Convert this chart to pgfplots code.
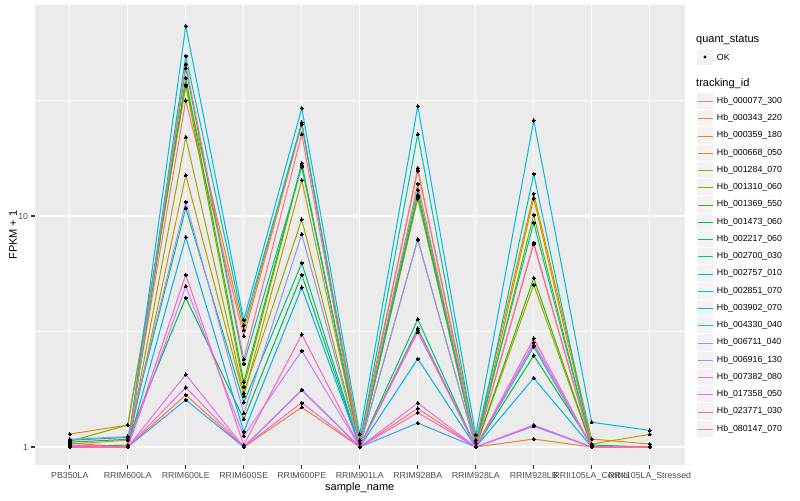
\documentclass[border=0pt]{standalone}
\usepackage{pgfplots}
\pgfplotsset{compat=1.18}
\usepackage{pgfplotstable}
\usepackage{fontspec}
\setmainfont{Liberation Sans}

\definecolor{gray92}{HTML}{EBEBEB}
\definecolor{gray95}{HTML}{F2F2F2}
\definecolor{gray30}{HTML}{4D4D4D}
\definecolor{gray20}{HTML}{333333}
% ggplot hue palette, 20 levels
\definecolor{c01}{HTML}{F8766D}
\definecolor{c02}{HTML}{EA8331}
\definecolor{c03}{HTML}{D89000}
\definecolor{c04}{HTML}{C09B00}
\definecolor{c05}{HTML}{A3A500}
\definecolor{c06}{HTML}{7CAE00}
\definecolor{c07}{HTML}{39B600}
\definecolor{c08}{HTML}{00BB4E}
\definecolor{c09}{HTML}{00BF7D}
\definecolor{c10}{HTML}{00C1A3}
\definecolor{c11}{HTML}{00BFC4}
\definecolor{c12}{HTML}{00BAE0}
\definecolor{c13}{HTML}{00B0F6}
\definecolor{c14}{HTML}{35A2FF}
\definecolor{c15}{HTML}{9590FF}
\definecolor{c16}{HTML}{C77CFF}
\definecolor{c17}{HTML}{E76BF3}
\definecolor{c18}{HTML}{FA62DB}
\definecolor{c19}{HTML}{FF62BC}
\definecolor{c20}{HTML}{FF6C91}

% FPKM + 1 per sample (rows) and tracking id (columns)
\pgfplotstableread{
x  s01   s02   s03   s04   s05   s06   s07   s08   s09   s10   s11   s12   s13   s14   s15   s16   s17   s18   s19   s20
0  1.03  1.00  1.138 1.04  1.00  1.06  1.00  1.05  1.07  1.01  1.00  1.00  1.00  1.00  1.08  1.00  1.00  1.00  1.02  1.01
1  1.07  1.00  1.245 1.00  1.00  1.245 1.02  1.08  1.10  1.00  1.00  1.00  1.00  1.00  1.11  1.00  1.00  1.00  1.00  1.00
2  31.6  1.68  36.6  15.0  21.9  36.9  39.5  4.43  10.8  43.6  49.3  66.4  8.1   1.60  11.5  4.96  2.06  1.81  5.57  45.4
3  3.02  1.00  3.20  1.66  1.71  1.82  1.91  1.32  1.56  2.29  3.36  3.55  1.165 1.00  1.40  1.116 1.00  1.00  1.02  2.40
4  24.9  1.485 25.0  14.3  9.66  16.6  16.9  5.57  6.26  16.3  25.4  29.3  4.90  1.76  8.33  2.61  1.77  1.555 3.07  22.6
5  1.00  1.00  1.07  1.00  1.00  1.00  1.00  1.00  1.00  1.04  1.00  1.135 1.00  1.00  1.00  1.00  1.00  1.00  1.00  1.00
6  13.8  1.47  15.7  11.9  7.93  12.1  12.3  3.26  3.57  22.6  12.95 29.9  2.41  1.27  7.9   3.14  1.55  1.41  3.21  16.1
7  1.00  1.00  1.07  1.00  1.00  1.00  1.00  1.00  1.00  1.04  1.00  1.13  1.00  1.00  1.00  1.00  1.00  1.00  1.00  1.00
8  7.55  1.083 12.5  11.9  5.04  10.1  5.39  2.49  2.72  9.35  15.2  25.9  1.99  1.23  2.76  2.83  1.245 1.24  2.95  7.66
9  1.00  1.00  1.083 1.03  1.00  1.00  1.00  1.02  1.00  1.00  1.00  1.28  1.00  1.00  1.00  1.00  1.00  1.00  1.00  1.00
10 1.00  1.00  1.03  1.135 1.00  1.00  1.00  1.00  1.00  1.00  1.00  1.18  1.00  1.00  1.00  1.00  1.00  1.00  1.00  1.00
}\fpkm

\begin{document}
\begin{tikzpicture}
\begin{axis}[
    width=649.5pt, height=460pt, scale only axis,
    set layers, mark layer=axis foreground,
    clip=false,
    ymode=log, ymin=0.836, ymax=81.9,
    xmin=-0.6, xmax=10.6,
    xtick={0,...,10},
    xticklabels={PB350LA,RRIM600LA,RRIM600LE,RRIM600SE,RRIM600PE,RRIM901LA,RRIM928BA,RRIM928LA,RRIM928LB,RRII105LA\_Control,RRII105LA\_Stressed},
    ytick={1,10}, yticklabels={1,10},
    minor ytick={3.1623,31.623},
    xmajorgrids, ymajorgrids, yminorgrids,
    major grid style={white, line width=1.07pt},
    minor grid style={white, line width=0.53pt},
    axis background/.style={fill=gray92},
    axis line style={draw=none},
    tick pos=left,
    tick align=outside, major tick length=3.7pt, minor tick length=0pt,
    tick style={color=gray20, line width=1.07pt},
    xticklabel style={font=\fontsize{8.8}{10}\selectfont, text=gray30, inner sep=0pt, yshift=-3pt},
    yticklabel style={font=\fontsize{8.8}{10}\selectfont, text=gray30, inner sep=0pt, xshift=-3pt},
    xlabel={sample\_name}, ylabel={FPKM + 1},
    label style={font=\fontsize{11}{13}\selectfont},
    xlabel style={at={(axis description cs:0.5,-0.05)}, anchor=center},
    ylabel style={at={(axis description cs:-0.0339,0.5)}, anchor=center},
    every axis plot/.append style={line width=1pt, mark=*, mark size=1.6pt,
        mark options={draw=black, fill=black, line width=0pt}},
]
\addplot[c01] table[x=x,y=s01] {\fpkm};
\addplot[c02] table[x=x,y=s02] {\fpkm};
\addplot[c03] table[x=x,y=s03] {\fpkm};
\addplot[c04] table[x=x,y=s04] {\fpkm};
\addplot[c05] table[x=x,y=s05] {\fpkm};
\addplot[c06] table[x=x,y=s06] {\fpkm};
\addplot[c07] table[x=x,y=s07] {\fpkm};
\addplot[c08] table[x=x,y=s08] {\fpkm};
\addplot[c09] table[x=x,y=s09] {\fpkm};
\addplot[c10] table[x=x,y=s10] {\fpkm};
\addplot[c11] table[x=x,y=s11] {\fpkm};
\addplot[c12] table[x=x,y=s12] {\fpkm};
\addplot[c13] table[x=x,y=s13] {\fpkm};
\addplot[c14] table[x=x,y=s14] {\fpkm};
\addplot[c15] table[x=x,y=s15] {\fpkm};
\addplot[c16] table[x=x,y=s16] {\fpkm};
\addplot[c17] table[x=x,y=s17] {\fpkm};
\addplot[c18] table[x=x,y=s18] {\fpkm};
\addplot[c19] table[x=x,y=s19] {\fpkm};
\addplot[c20] table[x=x,y=s20] {\fpkm};

% picture corners (1 unit = 1 px of the 800x500 frame)
\coordinate (bbSW) at (axis description cs:-0.05389,-0.07609);
\coordinate (bbNE) at (axis description cs:1.17783,1.01087);
\coordinate (TL) at (axis description cs:-0.05389,1.01087);
\end{axis}

% legends, in pixel coordinates from the top-left corner
\begin{scope}[shift={(TL)}, x=1pt, y=-1pt]
  \node[anchor=west, inner sep=0pt, font=\fontsize{11}{13}\selectfont] at (696,40) {quant\_status};
  \fill[gray95] (697,48.6) rectangle (713,65.4);
  \fill[black] (705,57) circle[radius=1.6pt];
  \node[anchor=west, inner sep=0pt, font=\fontsize{8.8}{10}\selectfont] at (716.7,57) {OK};
  \node[anchor=west, inner sep=0pt, font=\fontsize{11}{13}\selectfont] at (696,84) {tracking\_id};
  \foreach \col/\t [count=\i from 0] in {
      c01/Hb\_000077\_300, c02/Hb\_000343\_220, c03/Hb\_000359\_180, c04/Hb\_000668\_050,
      c05/Hb\_001284\_070, c06/Hb\_001310\_060, c07/Hb\_001369\_550, c08/Hb\_001473\_060,
      c09/Hb\_002217\_060, c10/Hb\_002700\_030, c11/Hb\_002757\_010, c12/Hb\_002851\_070,
      c13/Hb\_003902\_070, c14/Hb\_004330\_040, c15/Hb\_006711\_040, c16/Hb\_006916\_130,
      c17/Hb\_007382\_080, c18/Hb\_017358\_050, c19/Hb\_023771\_030, c20/Hb\_080147\_070} {
    \pgfmathsetmacro{\yy}{101+17.25*\i}
    \pgfmathsetmacro{\yl}{round(\yy)+0.5}
    \fill[gray95] (697,\yy-8.2) rectangle (713,\yy+8.2);
    \draw[color=\col, line width=1.8pt] (697.5,\yl) -- (712.5,\yl);
    \node[anchor=west, inner sep=0pt, font=\fontsize{8.8}{10}\selectfont] at (716.7,\yy) {\t};
  }
\end{scope}

\pgfresetboundingbox
\path[use as bounding box] (bbSW) rectangle (bbNE);
\end{tikzpicture}
\end{document}
